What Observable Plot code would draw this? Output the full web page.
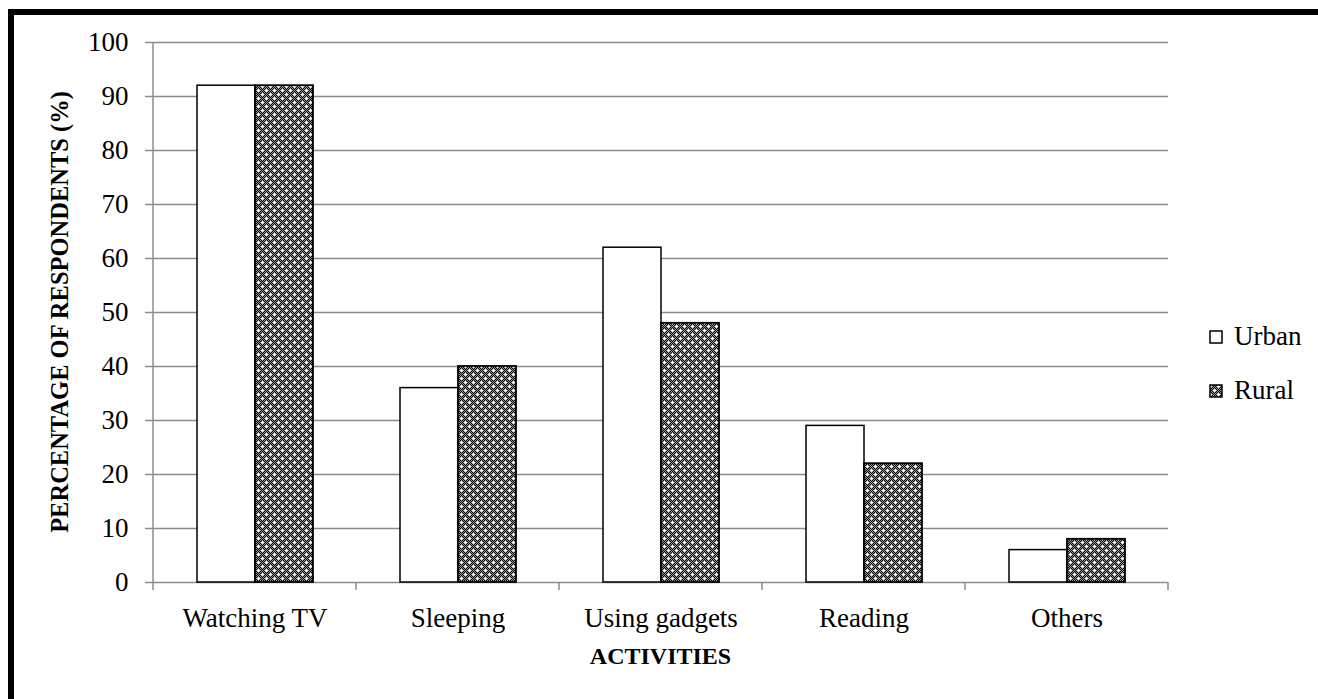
<!DOCTYPE html>
<html><head><meta charset="utf-8">
<script src="https://cdn.jsdelivr.net/npm/d3@7"></script>
<script src="https://cdn.jsdelivr.net/npm/@observablehq/plot@0.6"></script>
<style>
html,body{margin:0;padding:0;background:#fff;overflow:hidden;}
#chart{position:absolute;left:0;top:0;}
#frame{position:absolute;left:8px;top:9px;width:1400px;height:800px;border-left:6px solid #000;border-top:6px solid #000;pointer-events:none;}
</style></head><body>
<div id="chart"></div><div id="frame"></div>
<script>
const categories = ["Watching TV", "Sleeping", "Using gadgets", "Reading", "Others"];
const series = ["Urban", "Rural"];
const urban = [92, 36, 62, 29, 6];
const rural = [92, 40, 48, 22, 8];
const yTicks = [0, 10, 20, 30, 40, 50, 60, 70, 80, 90, 100];
const xLabel = "ACTIVITIES";
const yLabel = "PERCENTAGE OF RESPONDENTS (%)";

const data = categories.flatMap((c, i) => [
  {category: c, series: "Urban", value: urban[i]},
  {category: c, series: "Rural", value: rural[i]}
]);

const gray = "#8c8c8c";
const chart = Plot.plot({
  width: 1318, height: 699,
  marginLeft: 153, marginRight: 150, marginTop: 42, marginBottom: 117,
  style: {fontFamily: "'Liberation Serif', serif", fontSize: "27px", color: "#000", background: "transparent", overflow: "visible"},
  fx: {domain: categories, padding: 0, label: null},
  x: {domain: series, paddingInner: 0, paddingOuter: 0.735, axis: null},
  y: {domain: [0, 100], label: null},
  marks: [
    Plot.gridY(yTicks, {stroke: gray, strokeOpacity: 1, strokeWidth: 1.5}),
    Plot.axisY(yTicks, {tickSize: 8, tickPadding: 17, stroke: gray, strokeOpacity: 1, strokeWidth: 1.5, fill: "#000", fontSize: 27, label: null}),
    Plot.axisFx({anchor: "bottom", tickSize: 0, tickPadding: 25, fontSize: 27, fill: "#000", label: null}),
    Plot.barY(data.filter(d => d.series === "Urban"), {fx: "category", x: "series", y: "value", fill: "#fff", stroke: "#000", strokeWidth: 1.5}),
    Plot.barY(data.filter(d => d.series === "Rural"), {fx: "category", x: "series", y: "value", fill: "url(#ruralPattern)", stroke: "#000", strokeWidth: 1.8})
  ]
});
document.getElementById("chart").appendChild(chart);

const svg = d3.select(chart);
// pattern
const defs = svg.insert("defs", ":first-child");
const pat = defs.append("pattern").attr("id", "ruralPattern").attr("patternUnits", "userSpaceOnUse")
  .attr("width", 8).attr("height", 8);
pat.append("rect").attr("width", 8).attr("height", 8).attr("fill", "#000");
for (let px = 0; px < 8; px++) for (let py = 0; py < 8; py++) {
  if ((px + py) % 2 === 0) pat.append("rect").attr("x", px).attr("y", py).attr("width", 1).attr("height", 1).attr("fill", "#9a9a9a");
}
[[2, 2], [6, 6]].forEach(([cx, cy]) => {
  pat.append("rect").attr("x", cx - 1).attr("y", cy).attr("width", 3).attr("height", 1).attr("fill", "#fff");
  pat.append("rect").attr("x", cx).attr("y", cy - 1).attr("width", 1).attr("height", 3).attr("fill", "#fff");
});

const fx = chart.scale("fx"), y = chart.scale("y");
const bounds = categories.map(c => fx.apply(c)).concat([fx.apply(categories[categories.length - 1]) + fx.bandwidth]);
const y0 = y.apply(0), y100 = y.apply(100);
const g = svg.append("g").attr("stroke", gray).attr("stroke-width", 1.5);
bounds.forEach(bx => g.append("line").attr("x1", bx).attr("x2", bx).attr("y1", y0).attr("y2", y0 + 8));
g.append("line").attr("x1", bounds[0]).attr("x2", bounds[0]).attr("y1", y100).attr("y2", y0);

const midX = (bounds[0] + bounds[bounds.length - 1]) / 2;
svg.append("text").attr("x", midX).attr("y", 664).attr("text-anchor", "middle")
  .attr("font-weight", "bold").attr("font-size", 24).attr("fill", "#000").text(xLabel);
svg.append("text").attr("transform", `translate(68,${(y0 + y100) / 2}) rotate(-90)`).attr("text-anchor", "middle")
  .attr("font-weight", "bold").attr("font-size", 24.5).attr("fill", "#000").text(yLabel);

// legend
const leg = svg.append("g");
series.forEach((s, i) => {
  const ly = 331 + i * 54;
  leg.append("rect").attr("x", 1210).attr("y", ly).attr("width", 12).attr("height", 12)
    .attr("fill", s === "Urban" ? "#fff" : "url(#ruralPattern)").attr("stroke", "#000").attr("stroke-width", 1.5);
  leg.append("text").attr("x", 1234).attr("y", ly + 14).attr("text-anchor", "start")
    .attr("font-size", 27).attr("fill", "#000").text(s);
});
</script>
</body></html>
